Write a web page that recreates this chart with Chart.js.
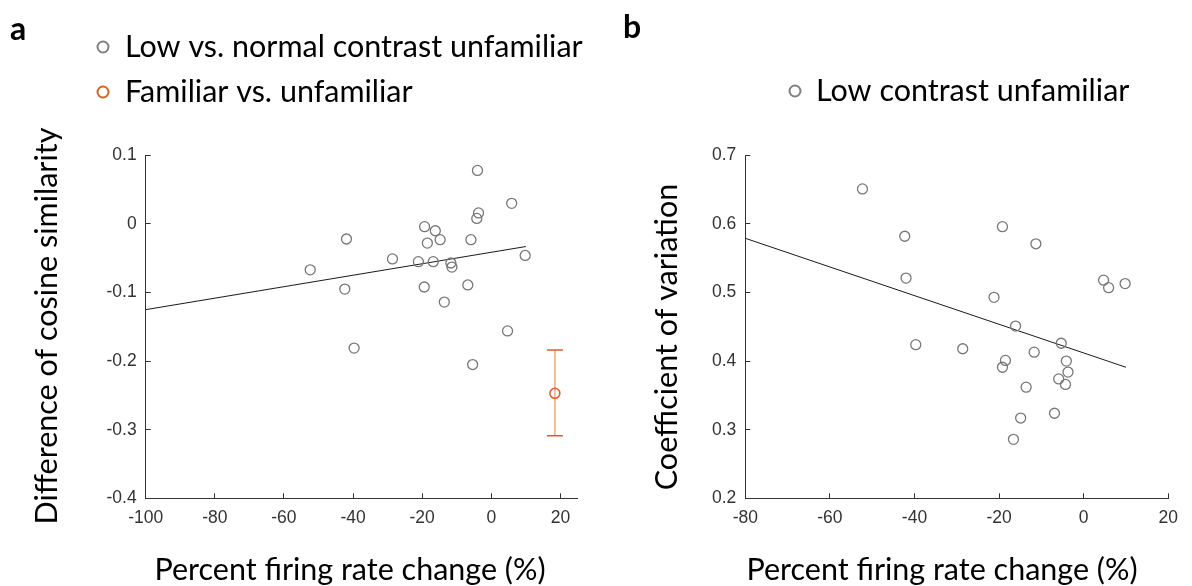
<!DOCTYPE html>
<html>
<head>
<meta charset="utf-8">
<script src="https://cdn.jsdelivr.net/npm/chart.js@4.4.1/dist/chart.umd.min.js"></script>
<style>
  html, body { margin: 0; padding: 0; background: #ffffff; }
  #wrap { position: relative; width: 1192px; height: 586px; overflow: hidden; }
  #wrap canvas { position: absolute; left: 0; top: 0; }
</style>
</head>
<body>
<div id="wrap">
  <canvas id="chartA" width="1192" height="586"></canvas>
  <canvas id="chartB" width="1192" height="586"></canvas>
</div>
<script>
// ---- Panel a: difference of cosine similarity vs. percent firing rate change ----
const lowNormalX = [-4.0, 5.9, -3.7, -4.2, -19.3, -16.2, -41.9, -14.8, -5.9, -18.5, 9.8, -28.6,
                    -21.1, -16.8, -11.7, -11.4, -52.4, -6.8, -19.4, -42.4, -13.6, 4.7, -39.7, -5.4];
const lowNormalY = [0.078, 0.030, 0.016, 0.008, -0.004, -0.010, -0.022, -0.023, -0.023, -0.028, -0.046, -0.051,
                    -0.055, -0.055, -0.057, -0.063, -0.067, -0.089, -0.092, -0.095, -0.114, -0.156, -0.181, -0.205];
const fitAX = [-100, 10];
const fitAY = [-0.125, -0.033];
const familiarX = [18.4];
const familiarY = [-0.247];
const familiarLow = [-0.309];
const familiarHigh = [-0.184];
const xTicksA = [-100, -80, -60, -40, -20, 0, 20];
const yTicksA = [-0.4, -0.3, -0.2, -0.1, 0, 0.1];

// ---- Panel b: coefficient of variation vs. percent firing rate change ----
const lowContrastX = [-52.3, -19.2, -42.3, -11.3, -42.0, 4.7, 9.8, 5.9, -21.2, -16.1, -5.3, -39.7,
                      -28.6, -11.7, -18.5, -4.1, -19.2, -3.7, -5.9, -4.3, -13.6, -6.9, -14.9, -16.6];
const lowContrastY = [0.651, 0.596, 0.582, 0.571, 0.521, 0.518, 0.513, 0.507, 0.493, 0.451, 0.426, 0.424,
                      0.418, 0.413, 0.401, 0.400, 0.391, 0.384, 0.374, 0.366, 0.362, 0.324, 0.317, 0.286];
const fitBX = [-80, 10];
const fitBY = [0.579, 0.391];
const xTicksB = [-80, -60, -40, -20, 0, 20];
const yTicksB = [0.2, 0.3, 0.4, 0.5, 0.6, 0.7];

// ---- Text ----
const seriesNameLowNormal = 'Low vs. normal contrast unfamiliar';
const seriesNameFamiliar = 'Familiar vs. unfamiliar';
const seriesNameLowContrast = 'Low contrast unfamiliar';
const xTitle = 'Percent firing rate change (%)';
const yTitleA = 'Difference of cosine similarity';
const yTitleB = 'Coefficient of variation';

// ---- Styling ----
const W = 1192, H = 586;
const AXIS_COLOR = '#333333';
const GRAY = '#777777';
const ORANGE = '#e35a26';
const ORANGE_LIGHT = '#f3a886';
const TICK_FONT = { family: "'Liberation Sans', Arial, sans-serif", size: 17.5 };
const TEXT_FAMILY = "Lato, 'Open Sans', sans-serif";

const pts = (xs, ys) => xs.map((x, i) => ({ x, y: ys[i] }));

function fmtY(v) {
  if (Math.abs(v) < 1e-9) return '0';
  return v.toFixed(1);
}

function scalesFor(box, xMin, xMax, xTicks, yMin, yMax, yTicks) {
  const common = {
    grid: { display: true, drawOnChartArea: false, drawTicks: true, tickLength: -5, color: AXIS_COLOR, lineWidth: 1 },
    border: { display: true, color: AXIS_COLOR, width: 1 }
  };
  return {
    x: Object.assign({
      type: 'linear', position: 'bottom', min: xMin, max: xMax,
      afterBuildTicks: s => { s.ticks = xTicks.map(v => ({ value: v })); },
      afterFit: s => { s.height = H - box.bottom; },
      ticks: { color: AXIS_COLOR, font: TICK_FONT, padding: 14, maxRotation: 0, autoSkip: false,
               callback: v => String(v) }
    }, common),
    y: Object.assign({
      type: 'linear', position: 'left', min: yMin, max: yMax,
      afterBuildTicks: s => { s.ticks = yTicks.map(v => ({ value: v })); },
      afterFit: s => { s.width = box.left; },
      ticks: { color: AXIS_COLOR, font: TICK_FONT, padding: 14, autoSkip: false,
               callback: v => fmtY(v) }
    }, common)
  };
}

// Draws panel letters, legends and axis titles
const panelText = {
  id: 'panelText',
  afterDraw(chart, args, opts) {
    const ctx = chart.ctx;
    (opts.markers || []).forEach(m => {
      ctx.save();
      ctx.beginPath();
      ctx.arc(m.x, m.y, m.r, 0, Math.PI * 2);
      ctx.lineWidth = m.w;
      ctx.strokeStyle = m.color;
      ctx.stroke();
      ctx.restore();
    });
    (opts.items || []).forEach(it => {
      ctx.save();
      ctx.translate(it.x, it.y);
      if (it.rotate) ctx.rotate(it.rotate);
      ctx.font = it.font;
      ctx.fillStyle = it.color || '#000';
      ctx.textAlign = it.align || 'center';
      ctx.textBaseline = 'middle';
      ctx.fillText(it.text, 0, 0);
      ctx.restore();
    });
  }
};

function build() {
  const boxA = { left: 145.7, right: 577.7, top: 155.3, bottom: 498.3 };
  const boxB = { left: 745.3, right: 1177.3, top: 155.3, bottom: 498.3 };
  const labelFont = `30.5px ${TEXT_FAMILY}`;
  const letterFont = `bold 32px ${TEXT_FAMILY}`;

  new Chart(document.getElementById('chartA'), {
    type: 'scatter',
    data: {
      datasets: [
        { label: seriesNameFamiliar, data: pts(familiarX, familiarY), pointStyle: 'circle', pointRadius: 5,
          borderColor: ORANGE, backgroundColor: 'rgba(0,0,0,0)', borderWidth: 1.5 },
        { label: 'errorCaps', data: pts(familiarX.concat(familiarX), familiarLow.concat(familiarHigh)),
          pointStyle: 'line', pointRadius: 8, borderColor: ORANGE, borderWidth: 1.5 },
        { label: 'errorBar', type: 'line', data: pts(familiarX.concat(familiarX), familiarLow.concat(familiarHigh)),
          borderColor: ORANGE_LIGHT, borderWidth: 1.5, pointRadius: 0, fill: false },
        { label: seriesNameLowNormal, data: pts(lowNormalX, lowNormalY), pointStyle: 'circle', pointRadius: 5,
          borderColor: GRAY, backgroundColor: 'rgba(0,0,0,0)', borderWidth: 1.3 },
        { label: 'fit', type: 'line', data: pts(fitAX, fitAY), borderColor: '#1a1a1a', borderWidth: 1,
          pointRadius: 0, fill: false }
      ]
    },
    options: {
      responsive: false, animation: false, devicePixelRatio: 1,
      layout: { padding: { left: 0, top: boxA.top, right: W - boxA.right, bottom: 0 } },
      plugins: {
        legend: { display: false }, tooltip: { enabled: false },
        panelText: {
          markers: [
            { x: 103, y: 47, r: 5.5, w: 2, color: '#808080' },
            { x: 103, y: 92, r: 5.5, w: 2, color: '#d2661f' }
          ],
          items: [
            { text: 'a', x: 18, y: 30, font: letterFont },
            { text: seriesNameLowNormal, x: 125, y: 47, font: labelFont, align: 'left' },
            { text: seriesNameFamiliar, x: 125, y: 92, font: labelFont, align: 'left' },
            { text: yTitleA, x: 47, y: 326, font: labelFont, rotate: -Math.PI / 2 },
            { text: xTitle, x: 350, y: 570, font: labelFont }
          ]
        }
      },
      scales: scalesFor(boxA, -100, 25, xTicksA, -0.4, 0.1, yTicksA)
    },
    plugins: [panelText]
  });

  new Chart(document.getElementById('chartB'), {
    type: 'scatter',
    data: {
      datasets: [
        { label: seriesNameLowContrast, data: pts(lowContrastX, lowContrastY), pointStyle: 'circle', pointRadius: 5,
          borderColor: GRAY, backgroundColor: 'rgba(0,0,0,0)', borderWidth: 1.3 },
        { label: 'fit', type: 'line', data: pts(fitBX, fitBY), borderColor: '#1a1a1a', borderWidth: 1,
          pointRadius: 0, fill: false }
      ]
    },
    options: {
      responsive: false, animation: false, devicePixelRatio: 1,
      layout: { padding: { left: 0, top: boxB.top, right: W - boxB.right, bottom: 0 } },
      plugins: {
        legend: { display: false }, tooltip: { enabled: false },
        panelText: {
          markers: [
            { x: 795, y: 91, r: 5.5, w: 2, color: '#808080' }
          ],
          items: [
            { text: 'b', x: 632, y: 28, font: letterFont },
            { text: seriesNameLowContrast, x: 816, y: 91, font: labelFont, align: 'left' },
            { text: yTitleB, x: 667, y: 337, font: labelFont, rotate: -Math.PI / 2 },
            { text: xTitle, x: 942, y: 570, font: labelFont }
          ]
        }
      },
      scales: scalesFor(boxB, -80, 20, xTicksB, 0.2, 0.7, yTicksB)
    },
    plugins: [panelText]
  });
}

const fontsReady = document.fonts && document.fonts.load
  ? Promise.all([document.fonts.load(`30px ${TEXT_FAMILY}`), document.fonts.load(`bold 32px ${TEXT_FAMILY}`),
                 document.fonts.load("17px 'Liberation Sans'")]).catch(() => {})
  : Promise.resolve();
fontsReady.then(build);
</script>
</body>
</html>
